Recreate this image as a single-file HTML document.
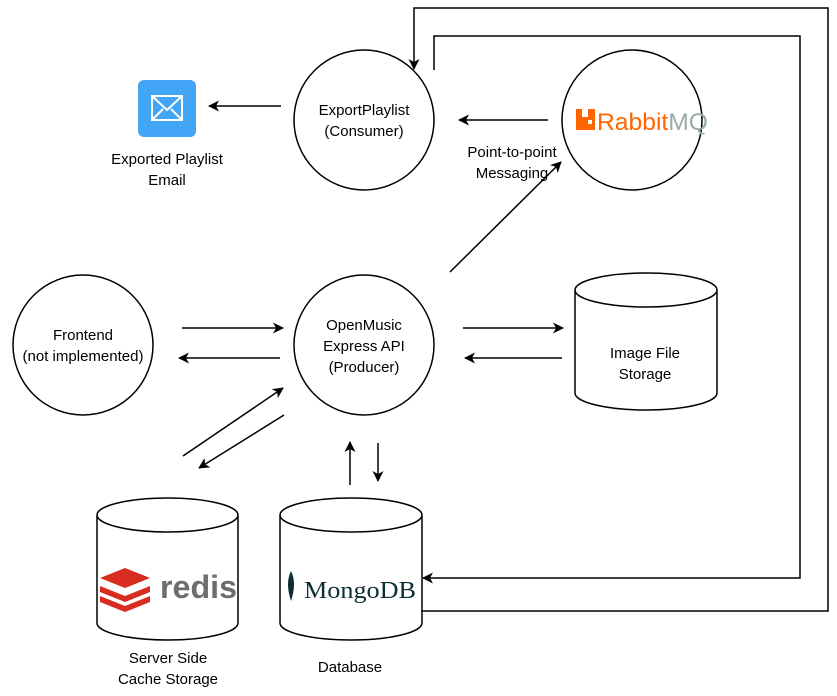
<!DOCTYPE html>
<html><head><style>body{margin:0;background:#fff}svg{display:block}text{font-family:"Liberation Sans",sans-serif;font-size:15px;fill:#000}</style></head><body>
<svg width="837" height="696" viewBox="0 0 837 696" xmlns="http://www.w3.org/2000/svg">
<defs><marker id="a" markerWidth="12" markerHeight="12" refX="10" refY="6" orient="auto" markerUnits="userSpaceOnUse"><path d="M0,0.5 L11,6 L0,11.5 L3,6 z" fill="#000"/></marker></defs>
<g fill="none" stroke="#000" stroke-width="1.5">
<circle cx="364" cy="120" r="70"/>
<circle cx="632" cy="120" r="70"/>
<circle cx="83" cy="345" r="70"/>
<circle cx="364" cy="345" r="70"/>
<path d="M575,290 v103 a71,17 0 0 0 142,0 v-103 a71,17 0 0 0 -142,0 a71,17 0 0 0 142,0"/>
<path d="M97,515 v108 a70.5,17 0 0 0 141,0 v-108 a70.5,17 0 0 0 -141,0 a70.5,17 0 0 0 141,0"/>
<path d="M280,515 v108 a71,17 0 0 0 142,0 v-108 a71,17 0 0 0 -142,0 a71,17 0 0 0 142,0"/>
<g marker-end="url(#a)">
<path d="M421,611 H828 V8 H414 V69"/>
<path d="M434,70 V36 H800 V578 H423"/>
<path d="M281,106 H209"/>
<path d="M548,120 H459"/>
<path d="M450,272 L561,162"/>
<path d="M182,328 H283"/>
<path d="M280,358 H179"/>
<path d="M463,328 H563"/>
<path d="M562,358 H465"/>
<path d="M183,456 L283,388"/>
<path d="M284,415 L199,468"/>
<path d="M350,485 V442"/>
<path d="M378,443 V481"/>
</g></g>
<rect x="138" y="80" width="58" height="57" rx="6" fill="#42a5f5"/>
<path d="M152,96 h30 v24 h-30 z M152,96 l15,14 l15,-14 M152,120 l11,-11 M182,120 l-11,-11" fill="none" stroke="#fff" stroke-width="2"/>
<text x="167" y="164" text-anchor="middle">Exported Playlist</text>
<text x="167" y="185" text-anchor="middle">Email</text>
<text x="364" y="115" text-anchor="middle">ExportPlaylist</text>
<text x="364" y="136" text-anchor="middle">(Consumer)</text>
<text x="512" y="157" text-anchor="middle">Point-to-point</text>
<text x="512" y="178" text-anchor="middle">Messaging</text>
<rect x="576" y="109" width="19" height="21" fill="#f60"/><rect x="582" y="109" width="6" height="8" fill="#fff"/><rect x="588" y="120" width="4" height="4" fill="#fff"/>
<text x="597" y="130" textLength="111" lengthAdjust="spacingAndGlyphs" style="font-size:24px;fill:#f60">Rabbit<tspan style="fill:#9aa">MQ</tspan></text>
<text x="83" y="340" text-anchor="middle">Frontend</text>
<text x="83" y="361" text-anchor="middle">(not implemented)</text>
<text x="364" y="330" text-anchor="middle">OpenMusic</text>
<text x="364" y="351" text-anchor="middle">Express API</text>
<text x="364" y="372" text-anchor="middle">(Producer)</text>
<text x="645" y="358" text-anchor="middle">Image File</text>
<text x="645" y="379" text-anchor="middle">Storage</text>
<g fill="#d82c20"><path d="M100,578 l25,-10 l25,10 l-25,10z"/><path d="M100,586 l25,10 l25,-10 v6 l-25,10 l-25,-10z"/><path d="M100,596 l25,10 l25,-10 v6 l-25,10 l-25,-10z"/></g>
<text x="160" y="598" textLength="77" lengthAdjust="spacingAndGlyphs" style="font-size:32px;font-weight:bold;fill:#6d6d6d">redis</text>
<path d="M291,571 q-6,12 0,30 q6,-18 0,-30z" fill="#0c2f34"/>
<text x="304" y="598" textLength="112" lengthAdjust="spacingAndGlyphs" style="font-family:'Liberation Serif',serif;font-size:24px;fill:#0c2f34">MongoDB</text>
<text x="168" y="663" text-anchor="middle">Server Side</text>
<text x="168" y="684" text-anchor="middle">Cache Storage</text>
<text x="350" y="672" text-anchor="middle">Database</text>
</svg></body></html>
